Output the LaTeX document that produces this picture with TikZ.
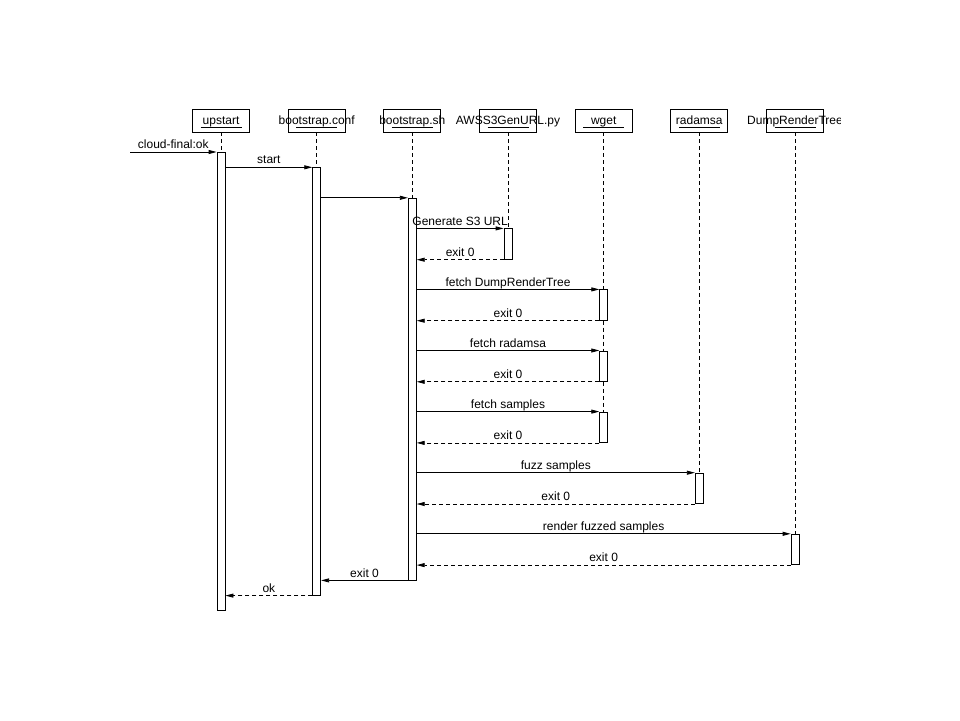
\documentclass[tikz,border=0pt]{standalone}
\usepackage{fontspec}
\setmainfont{Liberation Sans}
\usetikzlibrary{arrows.meta}

\begin{document}
\begin{tikzpicture}[x=1pt, y=-1pt, line width=0.8pt]
		\tikzset{every node/.style={font=\fontsize{12}{14}\selectfont},
			hd/.style={draw, minimum width=57pt, minimum height=23pt, inner sep=0pt,
				label={[text height=8pt, text depth=0pt]center:#1},
				path picture={\draw ([xshift=8pt, yshift=5pt]path picture bounding box.south west) to ([xshift=-8pt, yshift=5pt]path picture bounding box.south east);}},
			br/.style={draw, fill=white, minimum width=8pt, inner sep=0pt, anchor=north},
			life/.style={dash pattern=on 4pt off 3pt},
			msg/.style={-{Triangle[length=8pt, width=4pt]}},
			ret/.style={msg, dash pattern=on 4pt off 3pt},
			lbl/.style={above, inner sep=0pt, yshift=3pt, text depth=0pt}};

		\useasboundingbox (0, 0) rectangle (960, 720);
		\clip (0, 0) rectangle (840, 720);

		\node[hd=upstart] (up) at (221, 120.5) {};
		\node[hd=bootstrap.conf] (bc) at (316.7, 120.5) {};
		\node[hd=bootstrap.sh] (bs) at (412.3, 120.5) {};
		\node[hd=AWSS3GenURL.py] (aws) at (508, 120.5) {};
		\node[hd=wget] (wg) at (603.7, 120.5) {};
		\node[hd=radamsa] (rad) at (699.3, 120.5) {};
		\node[hd=DumpRenderTree] (drt) at (795, 120.5) {};

		\node[br, minimum height=458pt] (up1) at (221, 152) {};
		\node[br, minimum height=427.5pt] (bc1) at (316.7, 167.3) {};
		\node[br, minimum height=381.8pt] (bs1) at (412.3, 197.8) {};
		\node[br, minimum height=30.5pt] (aws1) at (508, 228.4) {};
		\node[br, minimum height=30.5pt] (wg1) at (603.7, 289.4) {};
		\node[br, minimum height=30.5pt] (wg2) at (603.7, 350.5) {};
		\node[br, minimum height=30.5pt] (wg3) at (603.7, 411.6) {};
		\node[br, minimum height=30.5pt] (rad1) at (699.3, 472.7) {};
		\node[br, minimum height=30.5pt] (drt1) at (795, 533.8) {};
		\coordinate (cf) at (130, 152);

		\draw[life] (up) to (up1);
		\draw[life] (bc) to (bc1);
		\draw[life] (bs) to (bs1);
		\draw[life] (aws) to (aws1);
		\draw[life] (wg) to (wg1);
		\draw[life] (wg1) to (wg2);
		\draw[life] (wg2) to (wg3);
		\draw[life] (rad) to (rad1);
		\draw[life] (drt) to (drt1);

		\draw[msg] (cf) to node[lbl] {cloud-final:ok} (up1.north west);
		\draw[msg] (up1.east |- bc1.north) to node[lbl] {start} (bc1.north west);
		\draw[msg] (bc1.east |- bs1.north) to (bs1.north west);
		\draw[msg] (bs1.east |- aws1.north) to node[lbl] {Generate S3 URL} (aws1.north west);
		\draw[ret] (aws1.south west) to node[lbl] {exit 0} (bs1.east |- aws1.south);
		\draw[msg] (bs1.east |- wg1.north) to node[lbl] {fetch DumpRenderTree} (wg1.north west);
		\draw[ret] (wg1.south west) to node[lbl] {exit 0} (bs1.east |- wg1.south);
		\draw[msg] (bs1.east |- wg2.north) to node[lbl] {fetch radamsa} (wg2.north west);
		\draw[ret] (wg2.south west) to node[lbl] {exit 0} (bs1.east |- wg2.south);
		\draw[msg] (bs1.east |- wg3.north) to node[lbl] {fetch samples} (wg3.north west);
		\draw[ret] (wg3.south west) to node[lbl] {exit 0} (bs1.east |- wg3.south);
		\draw[msg] (bs1.east |- rad1.north) to node[lbl] {fuzz samples} (rad1.north west);
		\draw[ret] (rad1.south west) to node[lbl] {exit 0} (bs1.east |- rad1.south);
		\draw[msg] (bs1.east |- drt1.north) to node[lbl] {render fuzzed samples} (drt1.north west);
		\draw[ret] (drt1.south west) to node[lbl] {exit 0} (bs1.east |- drt1.south);
		\draw[msg] (bs1.south west) to node[lbl] {exit 0} (bc1.east |- bs1.south);
		\draw[ret] (bc1.south west) to node[lbl] {ok} (up1.east |- bc1.south);

	\end{tikzpicture}
\end{document}
